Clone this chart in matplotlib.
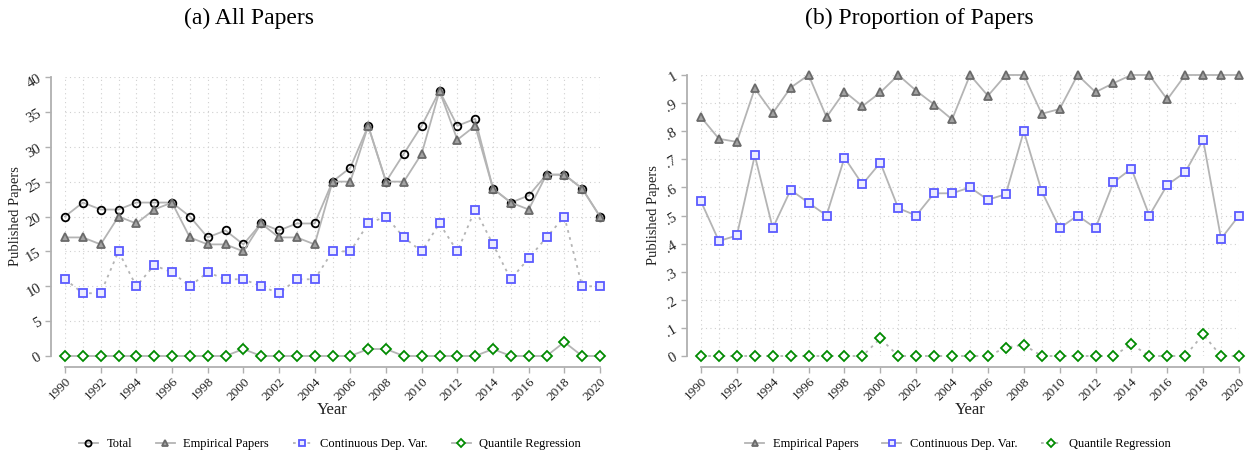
import numpy as np
import matplotlib
matplotlib.use("Agg")
import matplotlib.pyplot as plt
from matplotlib.ticker import MultipleLocator

plt.rcParams['font.family'] = ['Liberation Serif', 'DejaVu Serif']

# data
years = list(range(1990, 2021))

total = [20, 22, 21, 21, 22, 22, 22, 20, 17, 18, 16, 19, 18, 19, 19, 25,
         27, 33, 25, 29, 33, 38, 33, 34, 24, 22, 23, 26, 26, 24, 20]
empirical = [17, 17, 16, 20, 19, 21, 22, 17, 16, 16, 15, 19, 17, 17, 16, 25,
             25, 33, 25, 25, 29, 38, 31, 33, 24, 22, 21, 26, 26, 24, 20]
continuous = [11, 9, 9, 15, 10, 13, 12, 10, 12, 11, 11, 10, 9, 11, 11, 15,
              15, 19, 20, 17, 15, 19, 15, 21, 16, 11, 14, 17, 20, 10, 10]
quantile = [0, 0, 0, 0, 0, 0, 0, 0, 0, 0, 1, 0, 0, 0, 0, 0,
            0, 1, 1, 0, 0, 0, 0, 0, 1, 0, 0, 0, 2, 0, 0]

share_empirical = [.850, .773, .762, .952, .864, .955, 1.0, .850, .941, .889, .938,
                   1.0, .944, .895, .842, 1.0, .926, 1.0, 1.0, .862, .879, 1.0,
                   .939, .971, 1.0, 1.0, .913, 1.0, 1.0, 1.0, 1.0]
share_continuous = [.550, .409, .429, .714, .455, .591, .545, .500, .706, .611, .688,
                    .526, .500, .579, .579, .600, .556, .576, .800, .586, .455, .500,
                    .455, .618, .667, .500, .609, .654, .769, .417, .500]
share_quantile = [0, 0, 0, 0, 0, 0, 0, 0, 0, 0, .0625, 0, 0, 0, 0, 0,
                  0, .030, .040, 0, 0, 0, 0, 0, .042, 0, 0, 0, .077, 0, 0]

left_yticks = [0, 5, 10, 15, 20, 25, 30, 35, 40]
right_yticks = [0, .1, .2, .3, .4, .5, .6, .7, .8, .9, 1]
right_ylabels = ['0', '.1', '.2', '.3', '.4', '.5', '.6', '.7', '.8', '.9', '1']

LINE = '#b4b4b4'
SPINE = '#b0b0b0'
TXT = '#222222'

W, H = 1252, 458
fig = plt.figure(figsize=(W / 100, H / 100), dpi=100)


def px_axes(x0, x1, ytop, ybot):
    return fig.add_axes([x0 / W, (H - ybot) / H, (x1 - x0) / W, (ybot - ytop) / H])


def style(ax, ymax, yticks, ylabels, ylab_x):
    ax.set_xlim(1990, 2020)
    ax.set_ylim(0, ymax)
    for s in ['top', 'right']:
        ax.spines[s].set_visible(False)
    ax.spines['left'].set_position(('outward', 10))
    ax.spines['bottom'].set_position(('outward', 8))
    ax.spines['left'].set_bounds(0, ymax)
    ax.spines['bottom'].set_bounds(1990, 2020)
    for s in ['left', 'bottom']:
        ax.spines[s].set_color(SPINE)
        ax.spines[s].set_linewidth(1.3)
    ax.set_xticks(list(range(1990, 2021, 2)))
    ax.set_xticklabels([str(y) for y in range(1990, 2021, 2)], rotation=45,
                       ha='right', rotation_mode='anchor', fontsize=9.5, color=TXT)
    ax.xaxis.set_minor_locator(MultipleLocator(1))
    ax.set_yticks(yticks)
    ax.set_yticklabels(ylabels, rotation=30, fontsize=10.5, color=TXT)
    ax.tick_params(axis='both', which='major', color=SPINE, length=4, width=1, pad=2)
    ax.tick_params(axis='y', pad=1.5)
    ax.tick_params(axis='x', which='minor', length=0)
    ax.grid(True, which='both', axis='x', linestyle=(0, (1, 3)), color='#d0d0d0', linewidth=0.8)
    ax.grid(True, which='major', axis='y', linestyle=(0, (1, 3)), color='#d0d0d0', linewidth=0.8)
    ax.set_axisbelow(True)
    ax.set_ylabel('Published Papers', fontsize=10.5, color=TXT)
    ax.set_xlabel('Year', fontsize=12, color=TXT)
    ax.yaxis.set_label_coords(ylab_x, 0.5)
    ax.xaxis.set_label_coords(0.5, -(402 - 356) / 279)


mk = dict(clip_on=False, markersize=5.5, markeredgewidth=1.3, linewidth=1.3, color=LINE)
tri = dict(marker='^', markerfacecolor='#a2a2a2', markeredgecolor='#6a6a6a')
sq = dict(marker='s', markerfacecolor='#ececff', markeredgecolor='#5a5aff')
dia = dict(marker='D', markerfacecolor='white', markeredgecolor='#008a00')
leg = dict(loc='center', frameon=False, fontsize=9, handlelength=1.5, columnspacing=1.9,
           handletextpad=0.7, markerscale=0.8)

# (a) All Papers
ax1 = px_axes(65, 600, 77, 356)
style(ax1, 40, left_yticks, [str(v) for v in left_yticks], -(65 - 22) / 535)
ax1.plot(years, total, marker='o', markerfacecolor='none', markeredgecolor='black',
         linestyle='-', label='Total', **mk)
ax1.plot(years, empirical, linestyle='-', label='Empirical Papers', **tri, **mk)
ax1.plot(years, continuous, linestyle=(0, (1.5, 2.5)), label='Continuous Dep. Var.', **sq, **mk)
ax1.plot(years, quantile, linestyle='-', label='Quantile Regression', markersize=5,
         markeredgewidth=1.3, linewidth=1.3, color=LINE, clip_on=False, **dia)
fig.legend(handles=ax1.get_lines(), bbox_to_anchor=(330 / W, 1 - 444 / H), ncol=4, **leg)

# (b) Proportion of Papers
ax2 = px_axes(701, 1239, 75, 356)
style(ax2, 1, right_yticks, right_ylabels, -(701 - 660) / 538)
ax2.plot(years, share_empirical, linestyle='-', label='Empirical Papers', **tri, **mk)
ax2.plot(years, share_continuous, linestyle='-', label='Continuous Dep. Var.', **sq, **mk)
ax2.plot(years, share_quantile, linestyle=(0, (1.5, 2.5)), label='Quantile Regression',
         markersize=5, markeredgewidth=1.3, linewidth=1.3, color=LINE, clip_on=False, **dia)
fig.legend(handles=ax2.get_lines(), bbox_to_anchor=(958 / W, 1 - 444 / H), ncol=3, **leg)

fig.text(249 / W, 1 - 18 / H, '(a) All Papers', ha='center', va='center', fontsize=17)
fig.text(919 / W, 1 - 18 / H, '(b) Proportion of Papers', ha='center', va='center', fontsize=17)

fig.savefig('out.png', dpi=100)
